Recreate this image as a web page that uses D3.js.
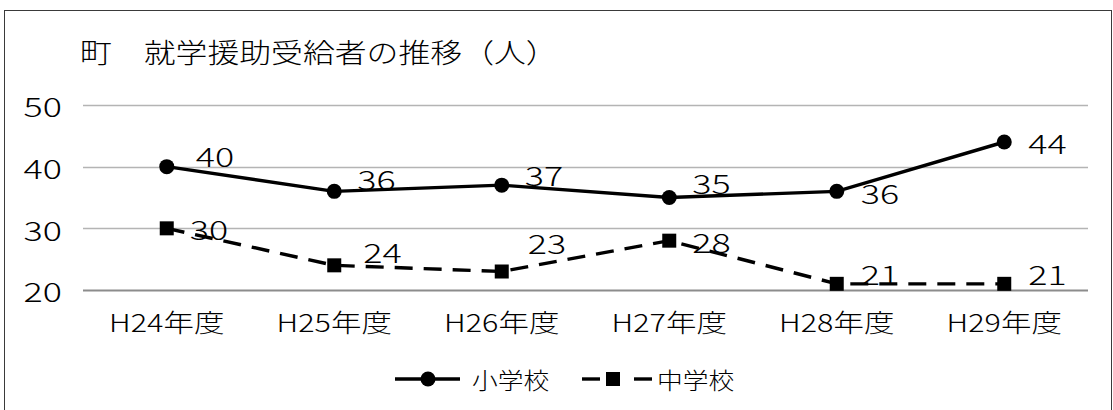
<!DOCTYPE html>
<html>
<head>
<meta charset="utf-8">
<script src="https://cdn.jsdelivr.net/npm/d3@7"></script>
<style>
  html, body { margin: 0; padding: 0; background: #fff; }
  svg { display: block; }
  text { font-family: "Noto Sans CJK JP", "Noto Sans", sans-serif; font-weight: 300; fill: #000; }
</style>
</head>
<body>
<svg id="chart" width="1113" height="410"></svg>
<script>
// 就学援助受給者数（人）
const categories = ["H24年度", "H25年度", "H26年度", "H27年度", "H28年度", "H29年度"];
const elementary = [40, 36, 37, 35, 36, 44];   // 小学校
const juniorHigh = [30, 24, 23, 28, 21, 21];   // 中学校
const yTicks = [20, 30, 40, 50];
const titleText = "町　就学援助受給者の推移（人）";
const seriesNames = ["小学校", "中学校"];

const svg = d3.select("#chart");

// outer frame
svg.append("rect")
  .attr("x", 4.5).attr("y", 10.5)
  .attr("width", 1107).attr("height", 430)
  .attr("fill", "none").attr("stroke", "#3a3a3a").attr("stroke-width", 1);

const x = d3.scaleBand().domain(categories).range([83, 1088]);
const y = d3.scaleLinear().domain([20, 50]).range([290, 105]);
const cx = c => x(c) + x.bandwidth() / 2;

// text with a slight horizontal stretch
function putText(g, tx, ty, str, size, anchor, sx) {
  return g.append("text")
    .attr("transform", `translate(${tx},${ty}) scale(${sx},1)`)
    .attr("text-anchor", anchor || "start")
    .attr("dominant-baseline", "central")
    .attr("font-size", size)
    .text(str);
}

const NUM_SIZE = 27, NUM_SX = 1.33;

// title
putText(svg, 80, 52, titleText, 27, "start", 1.18);

// gridlines
const grid = svg.append("g");
grid.selectAll("line").data(yTicks).join("line")
  .attr("x1", 83).attr("x2", 1088)
  .attr("y1", d => Math.round(y(d)) + 0.5).attr("y2", d => Math.round(y(d)) + 0.5)
  .attr("stroke", d => d === 20 ? "#8c8c8c" : "#b4b4b4")
  .attr("stroke-width", d => d === 20 ? 2.2 : 1.5);

// y-axis labels
const yAxis = d3.axisLeft(y).tickValues(yTicks).tickSize(0).tickPadding(0);
const yg = svg.append("g").attr("transform", "translate(62,0)").call(yAxis);
yg.select(".domain").remove();
yg.selectAll(".tick text").remove();
yg.selectAll(".tick").each(function(d) {
  putText(d3.select(this), 0, 0, d, NUM_SIZE, "end", NUM_SX);
});

// x-axis labels
const xAxis = d3.axisBottom(x).tickSize(0).tickPadding(0);
const xg = svg.append("g").attr("transform", "translate(0,321)").call(xAxis);
xg.select(".domain").remove();
xg.selectAll(".tick text").remove();
xg.selectAll(".tick").each(function(d) {
  putText(d3.select(this), 0, 0, d, 25, "middle", 1.22);
});

const line = d3.line().x((d, i) => cx(categories[i])).y(d => y(d));

// 中学校 (dashed, squares)
svg.append("path").datum(juniorHigh)
  .attr("d", line).attr("fill", "none")
  .attr("stroke", "#000").attr("stroke-width", 3.4)
  .attr("stroke-dasharray", "18,11");
svg.append("g").selectAll("rect").data(juniorHigh).join("rect")
  .attr("x", (d, i) => cx(categories[i]) - 7)
  .attr("y", d => y(d) - 7)
  .attr("width", 14).attr("height", 14).attr("fill", "#000");

// 小学校 (solid, circles)
svg.append("path").datum(elementary)
  .attr("d", line).attr("fill", "none")
  .attr("stroke", "#000").attr("stroke-width", 3.4);
svg.append("g").selectAll("circle").data(elementary).join("circle")
  .attr("cx", (d, i) => cx(categories[i]))
  .attr("cy", d => y(d)).attr("r", 7.5).attr("fill", "#000");

// data labels, nudged around their markers
const elemNudge = [[29, -12], [23, -13], [23, -11], [23, -15], [24, 1], [24, 0]];
const juniorNudge = [[23, 0], [29, -14], [26, -29], [23, 0], [24, -11], [24, -11]];
const labels = svg.append("g");
elementary.forEach((v, i) => {
  putText(labels, cx(categories[i]) + elemNudge[i][0], y(v) + elemNudge[i][1], v, NUM_SIZE, "start", NUM_SX);
});
juniorHigh.forEach((v, i) => {
  putText(labels, cx(categories[i]) + juniorNudge[i][0], y(v) + juniorNudge[i][1], v, NUM_SIZE, "start", NUM_SX);
});

// legend
const lg = svg.append("g").attr("transform", "translate(0,379)");
lg.append("line").attr("x1", 395).attr("x2", 460).attr("y1", 0).attr("y2", 0)
  .attr("stroke", "#000").attr("stroke-width", 3.4);
lg.append("circle").attr("cx", 428).attr("cy", 0).attr("r", 7.5).attr("fill", "#000");
putText(lg, 472, 0, seriesNames[0], 23, "start", 1.12);

lg.selectAll("line.dash").data([[582, 600], [634, 652]]).join("line")
  .attr("class", "dash")
  .attr("x1", d => d[0]).attr("x2", d => d[1]).attr("y1", 0).attr("y2", 0)
  .attr("stroke", "#000").attr("stroke-width", 3.4);
lg.append("rect").attr("x", 606).attr("y", -7).attr("width", 14).attr("height", 14).attr("fill", "#000");
putText(lg, 657, 0, seriesNames[1], 23, "start", 1.12);
</script>
</body>
</html>
